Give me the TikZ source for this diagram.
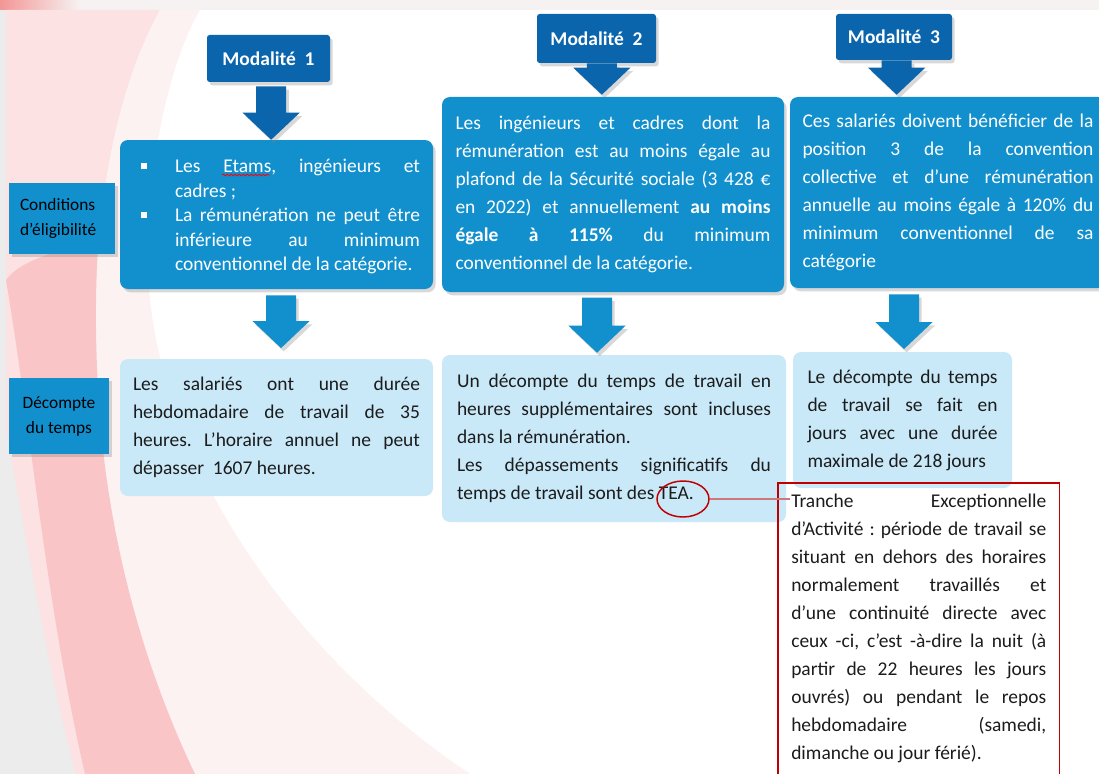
\documentclass[tikz,border=0pt]{standalone}
\usepackage{fontspec}
\setmainfont{Carlito}
\usetikzlibrary{shapes.geometric,shadows,calc,decorations.pathmorphing}

\definecolor{modblue}{RGB}{10,101,172}
\definecolor{condblue}{RGB}{18,144,206}
\definecolor{countblue}{RGB}{201,233,248}
\definecolor{notered}{RGB}{192,0,0}
\definecolor{linkred}{RGB}{205,120,125}
\definecolor{textgray}{RGB}{28,28,28}
\definecolor{topred}{RGB}{243,150,150}
\definecolor{topstrip}{RGB}{246,242,242}
\definecolor{swooshlight}{RGB}{252,226,226}
\definecolor{swooshfaint}{RGB}{253,242,242}
\definecolor{swooshband}{RGB}{249,190,192}
\definecolor{swooshgray}{RGB}{236,236,236}

\tolerance=10000
\hyphenpenalty=10000
\exhyphenpenalty=10000
\frenchspacing

\newcommand{\sqbullet}{\raisebox{2.6pt}{\rule{4.5pt}{4.5pt}}}
\newenvironment{squarelist}{\begin{list}{\sqbullet}{\setlength{\leftmargin}{31.5pt}\setlength{\labelwidth}{31.5pt}\setlength{\labelsep}{0pt}\setlength{\itemsep}{0pt}\setlength{\topsep}{0pt}\setlength{\parsep}{0pt}\setlength{\partopsep}{0pt}\renewcommand{\makelabel}[1]{\hspace*{6pt}##1\hfil}}}{\end{list}}
\newcommand{\blockarrow}[3]{%
  \fill[#3, blockshadow] let \p1=(#1), \p2=(#2) in
    (\x1-11.25pt,\y1) -- (\x1+11.25pt,\y1) -- (\x1+11.25pt,\y2+20.25pt)
    -- (\x1+21.4pt,\y2+20.25pt) -- (\x1,\y2) -- (\x1-21.4pt,\y2+20.25pt)
    -- (\x1-11.25pt,\y2+20.25pt) -- cycle;}

\tikzset{
  blockshadow/.style={drop shadow={opacity=0.3, shadow xshift=2pt, shadow yshift=-2.5pt}},
  modbox/.style={fill=modblue, text=white, font=\fontsize{14.6}{17}\selectfont\bfseries, rounded corners=2pt, inner sep=0pt, blockshadow},
  condbox/.style={fill=condblue, text=white, rounded corners=6pt, align=justify, inner sep=0pt, blockshadow},
  countbox/.style={fill=countblue, text=textgray, rounded corners=6pt, align=justify, inner sep=0pt},
  sidelabel/.style={fill=condblue, text=black, font=\fontsize{13}{18.75}\selectfont, inner sep=0pt, blockshadow},
  boxtext/.style={font=\fontsize{14.6}{21}\selectfont},
}

\begin{document}
\begin{tikzpicture}[x=0.75pt, y=-0.75pt]
\useasboundingbox (0,0) rectangle (1099,774);
\fill[white] (0,0) rectangle (1099,774);
\fill[topstrip] (0,0) rectangle (1099,10);
\shade[left color=topred, right color=topstrip] (0,0) rectangle (80,10);
\fill[swooshgray] (0,10) rectangle (6,774);
\fill[swooshlight] (6,10) -- (160,10) .. controls (100,120) and (88,280) .. (100,420) .. controls (112,560) and (150,680) .. (195,774) -- (6,774) -- cycle;
\fill[swooshfaint] (160,10) .. controls (100,120) and (88,280) .. (100,420) .. controls (112,560) and (150,680) .. (195,774) -- (470,774) .. controls (300,660) and (170,480) .. (150,300) .. controls (140,180) and (170,60) .. (200,10) -- cycle;
\fill[swooshband, opacity=0.8] (6,280) .. controls (30,420) and (45,600) .. (85,774) -- (195,774) .. controls (150,680) and (112,560) .. (100,420) .. controls (95,350) and (95,300) .. (98,240) .. controls (60,250) and (20,260) .. (6,280) -- cycle;
\fill[swooshgray] (6,430) .. controls (30,560) and (50,680) .. (76,774) -- (6,774) -- cycle;

\node[modbox, minimum width=92.25pt, minimum height=35.25pt] (mod1) at (268.5,58.5) {Modalité\hspace{0.45em}1};
\node[modbox, minimum width=89.25pt, minimum height=36.75pt] (mod2) at (596.5,38.5) {Modalité\hspace{0.45em}2};
\node[modbox, minimum width=87pt, minimum height=34.5pt] (mod3) at (894,37) {Modalité\hspace{0.45em}3};

\node[condbox, minimum width=234.75pt, minimum height=111.75pt, text width=215.25pt, font=\fontsize{14.6}{18.4}\selectfont] (cond1) at (276.5,214.5)
  {\begin{squarelist}
   \item Les Etams, ingénieurs et\linebreak cadres ;
   \item La rémunération ne peut être\linebreak inférieure au minimum\linebreak conventionnel de la catégorie.
   \end{squarelist}\vspace*{5pt}};
\draw[red, line width=0.6pt, decorate, decoration={snake, amplitude=0.6pt, segment length=3pt}] (222,175) -- (270,175);
\node[condbox, boxtext, minimum width=256.5pt, minimum height=146.25pt, text width=236.25pt] (cond2) at (613,194.5)
  {Les ingénieurs et cadres dont la\linebreak rémunération est au moins égale au\linebreak plafond de la Sécurité sociale (3 428 €\linebreak en 2022) et annuellement \textbf{au moins\linebreak égale à 115\%} du minimum\linebreak conventionnel de la catégorie.};
\node[condbox, boxtext, minimum width=237pt, minimum height=143.25pt, text width=218.25pt] (cond3) at (948,192.5)
  {Ces salariés doivent bénéficier de la\linebreak position 3 de la convention\linebreak collective et d’une rémunération\linebreak annuelle au moins égale à 120\% du\linebreak minimum conventionnel de sa\linebreak catégorie};

\node[countbox, boxtext, minimum width=234.75pt, minimum height=102.75pt, text width=215.25pt] (count1) at (276.5,427.5)
  {Les salariés ont une durée\linebreak hebdomadaire de travail de 35\linebreak heures. L’horaire annuel ne peut\linebreak dépasser\ \ 1607 heures.};
\node[countbox, boxtext, minimum width=258pt, minimum height=125.25pt, text width=235.5pt] (count2) at (614,438.5)
  {Un décompte du temps de travail en\linebreak heures supplémentaires sont incluses\linebreak dans la rémunération.\par Les dépassements significatifs du\linebreak temps de travail sont des TEA.};
\node[countbox, boxtext, minimum width=164.25pt, minimum height=102pt, text width=142.5pt] (count3) at (902.5,420)
  {Le décompte du temps\linebreak de travail se fait en\linebreak jours avec une durée\linebreak maximale de 218 jours};

\node[sidelabel, minimum width=79.5pt, minimum height=53.25pt, text width=63pt, align=left] (condlabel) at (62,218.5) {Conditions\\d’éligibilité};
\node[sidelabel, minimum width=75pt, minimum height=57pt, align=center] (countlabel) at (59,416) {Décompte\\du temps};

\blockarrow{[xshift=2pt,yshift=-3pt]mod1.south}{cond1.north}{modblue}
\blockarrow{[xshift=4pt]mod2.south}{[yshift=1.5pt]cond2.north}{modblue}
\blockarrow{[xshift=2pt]mod3.south}{[yshift=1.5pt]cond3.north}{modblue}
\blockarrow{[xshift=3.4pt,yshift=-4.5pt]cond1.south}{[yshift=8pt]count1.north}{condblue}
\blockarrow{[xshift=-12pt,yshift=-4pt]cond2.south}{[yshift=1.5pt]count2.north}{condblue}
\blockarrow{[xshift=-33pt,yshift=-4.5pt]cond3.south}{[yshift=2pt]count3.north}{condblue}

\node[anchor=north west, boxtext, text=textgray, text width=191.25pt, align=justify, inner xsep=9.75pt, inner ysep=7.9pt] (note) at (778,483)
  {Tranche Exceptionnelle\linebreak d’Activité : période de travail se\linebreak situant en dehors des horaires\linebreak normalement travaillés et\linebreak d’une continuité directe avec\linebreak ceux -ci, c’est -à-dire la nuit (à\linebreak partir de 22 heures les jours\linebreak ouvrés) ou pendant le repos\linebreak hebdomadaire (samedi,\linebreak dimanche ou jour férié).};
\draw[notered, line width=1.2pt] (note.north west) rectangle ([yshift=-20pt]note.south east);

\node[ellipse, draw=notered, line width=1.1pt, minimum width=39pt, minimum height=27pt, inner sep=0pt] (teamark) at (683,499) {};
\draw[linkred, line width=1pt] (teamark.east) -- ([xshift=9pt]teamark.east -| note.west);
\end{tikzpicture}
\end{document}
